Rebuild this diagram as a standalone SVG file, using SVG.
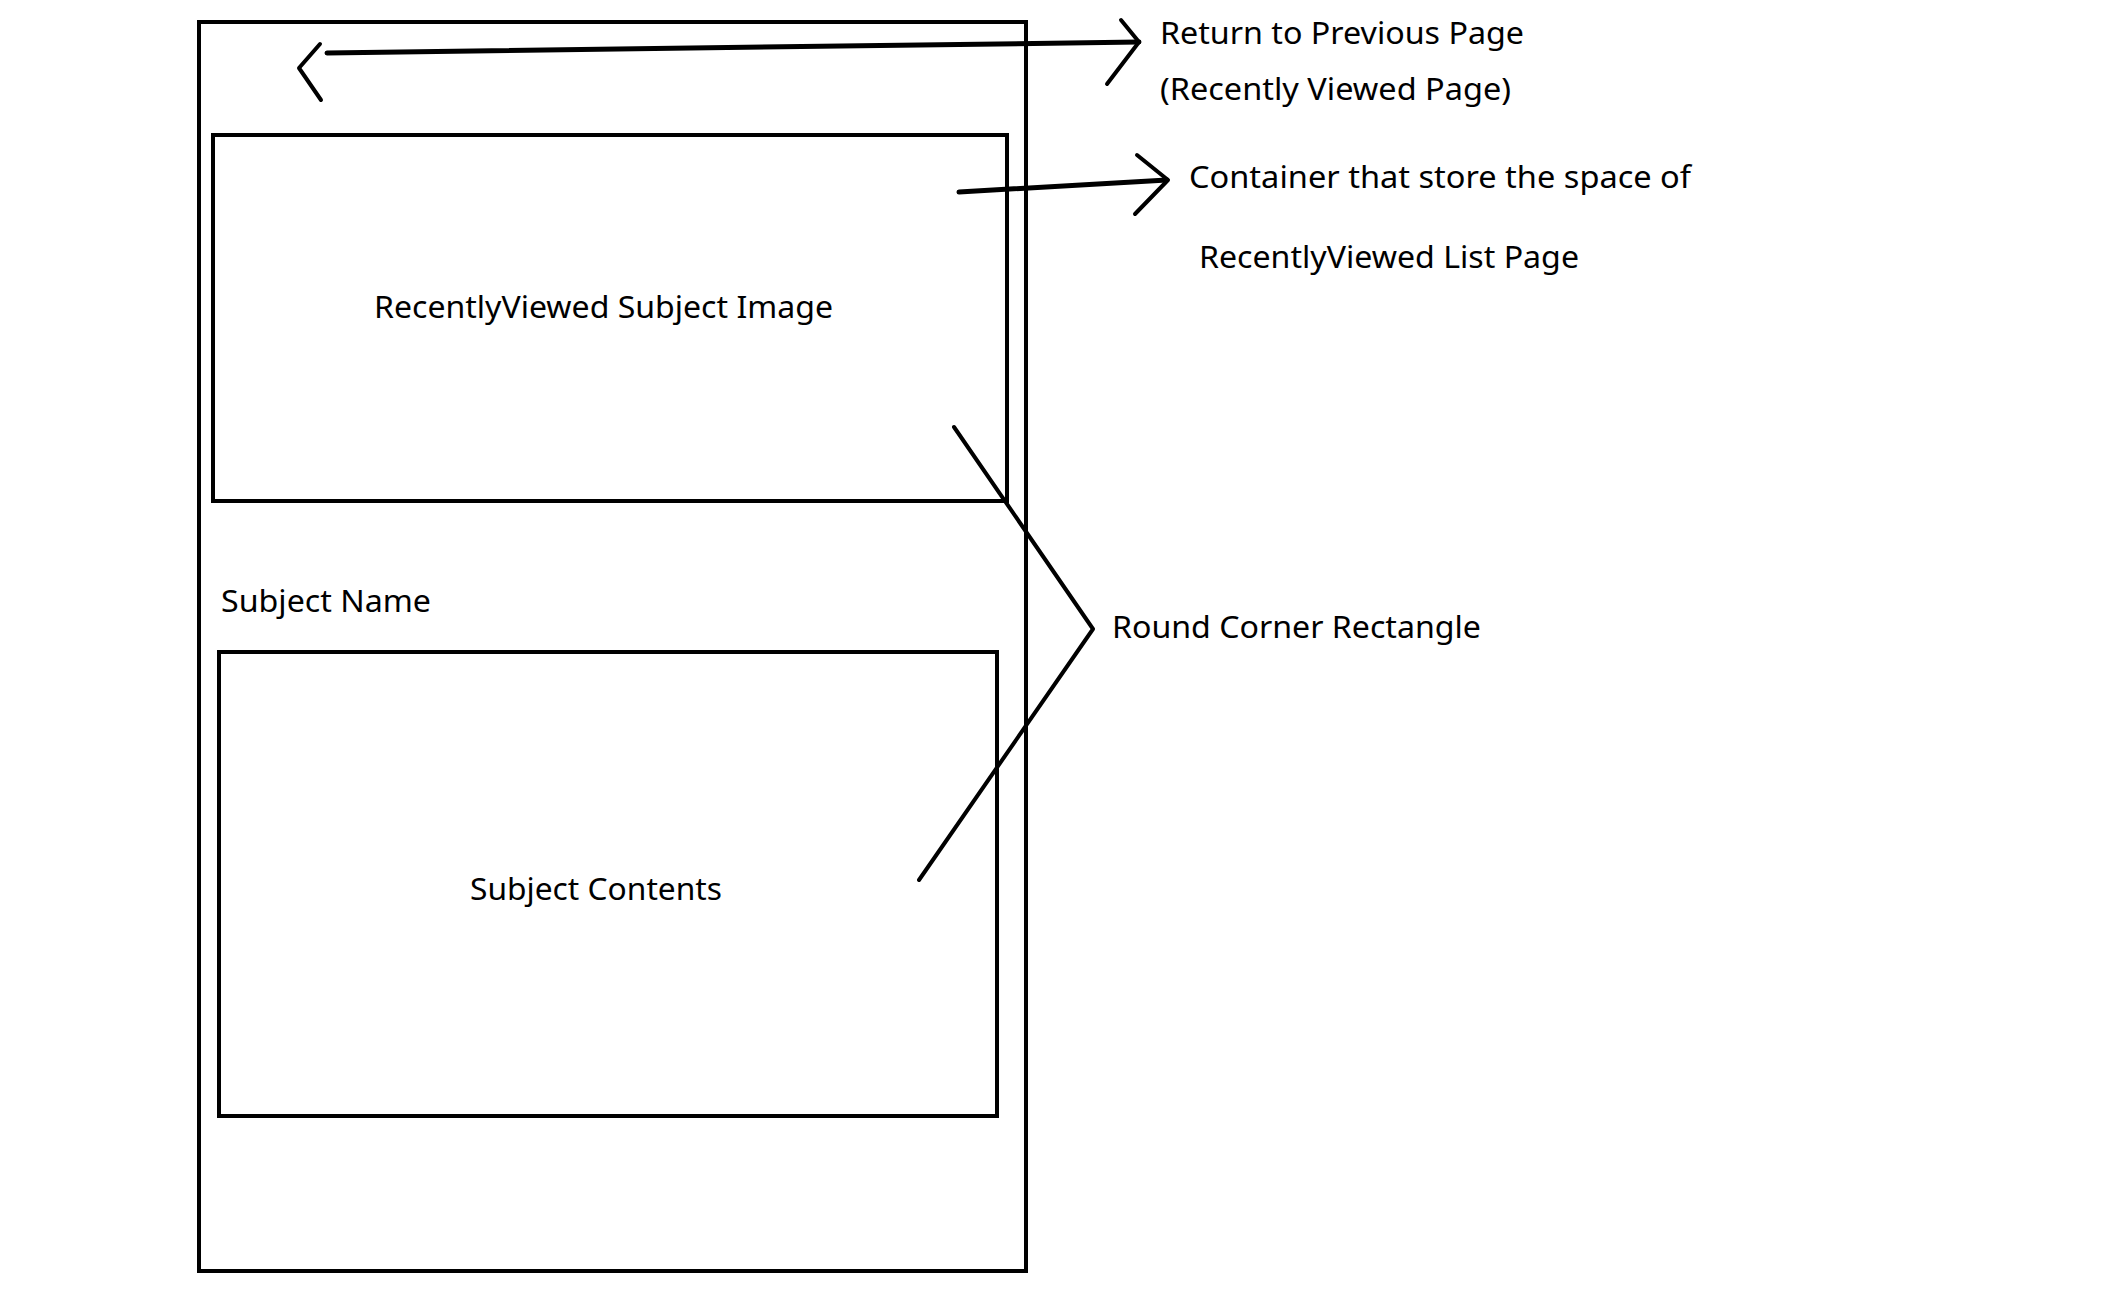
<svg xmlns="http://www.w3.org/2000/svg" width="2104" height="1300" viewBox="0 0 2104 1300">
<style>
.box{fill:none;stroke:#000;stroke-width:4}
.ln{fill:none;stroke:#000;stroke-width:4;stroke-linecap:round;stroke-linejoin:round}
.thick{stroke-width:5}
.t{font-family:"Noto Sans","Open Sans","DejaVu Sans",sans-serif;font-size:30px;fill:#000}
</style>
<rect width="2104" height="1300" fill="#fff"/>
<g id="phone"><rect class="box" x="199" y="22" width="827" height="1249"/></g>
<g id="image-box"><rect class="box" x="213" y="135" width="794" height="366"/>
<text class="t" x="374" y="318" textLength="459" lengthAdjust="spacingAndGlyphs">RecentlyViewed Subject Image</text></g>
<g id="subject-name"><text class="t" x="221" y="612" textLength="210" lengthAdjust="spacingAndGlyphs">Subject Name</text></g>
<g id="contents-box"><rect class="box" x="219" y="652" width="778" height="464"/>
<text class="t" x="470" y="900" textLength="252" lengthAdjust="spacingAndGlyphs">Subject Contents</text></g>
<g id="back-icon"><polyline class="ln" points="320,44 299,68 321,100"/></g>
<g id="label-return"><text class="t" x="1160" y="44" textLength="364" lengthAdjust="spacingAndGlyphs">Return to Previous Page</text>
<text class="t" x="1160" y="100" textLength="351" lengthAdjust="spacingAndGlyphs">(Recently Viewed Page)</text></g>
<g id="label-container"><text class="t" x="1189" y="188" textLength="502" lengthAdjust="spacingAndGlyphs">Container that store the space of</text>
<text class="t" x="1199" y="268" textLength="380" lengthAdjust="spacingAndGlyphs">RecentlyViewed List Page</text></g>
<g id="label-round"><text class="t" x="1112" y="638" textLength="369" lengthAdjust="spacingAndGlyphs">Round Corner Rectangle</text></g>
<g id="connectors">
<line class="ln thick" x1="327" y1="53" x2="1139" y2="42"/>
<polyline class="ln" points="1121,20 1139,42 1107,84"/>
<line class="ln thick" x1="959" y1="192" x2="1167" y2="180"/>
<polyline class="ln" points="1137,155 1168,180 1135,214"/>
<polyline class="ln" points="954,427 1093,629 919,880"/>
<line class="ln" x1="1007" y1="240" x2="1007" y2="246" stroke-width="6"/>
<line class="ln" x1="1026" y1="240" x2="1026" y2="246" stroke-width="6"/>
<line class="ln" x1="1026" y1="1164" x2="1026" y2="1170" stroke-width="6"/>
</g>
</svg>
